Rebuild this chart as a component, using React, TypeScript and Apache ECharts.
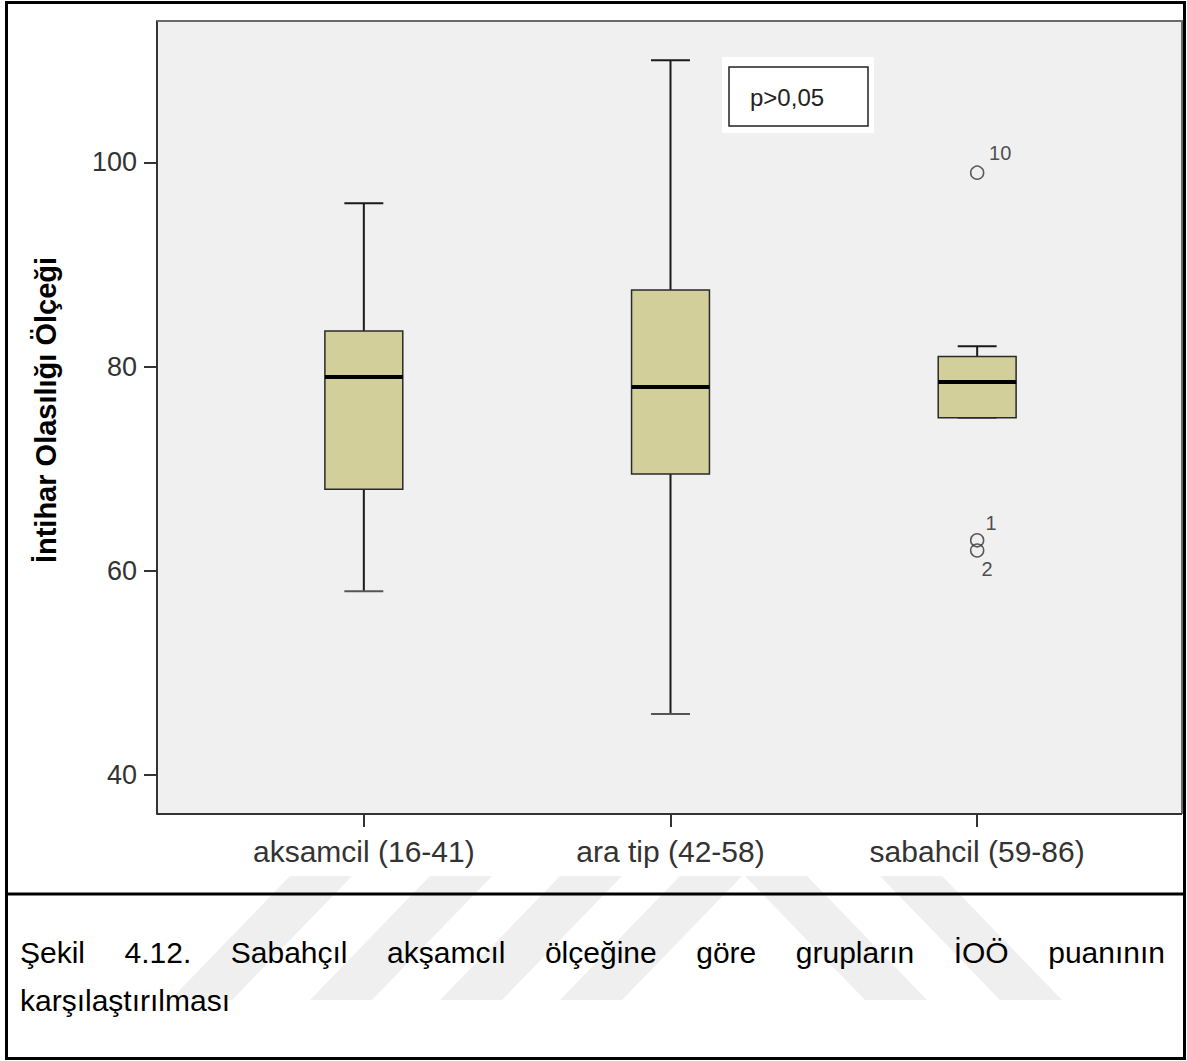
import React, { useEffect, useRef } from 'react';
import * as echarts from 'echarts';

// ---- data ----
const categories = ['aksamcil (16-41)', 'ara tip (42-58)', 'sabahcil (59-86)'];
const whiskerLow = [58, 46, 75];
const quartile1 = [68, 69.5, 75];
const medians = [79, 78, 78.5];
const quartile3 = [83.5, 87.5, 81];
const whiskerHigh = [96, 110, 82];

const outlierCategory = [2, 2, 2];
const outlierValues = [99, 63, 62];
const outlierIds = ['10', '1', '2'];

const yTicks = [40, 60, 80, 100];
const yAxisTitle = 'İntihar Olasılığı Ölçeği';
const annotationText = 'p>0,05';
const captionLine1 = ['Şekil', '4.12.', 'Sabahçıl', 'akşamcıl', 'ölçeğine', 'göre', 'grupların', 'İOÖ', 'puanının'];
const captionLine2 = 'karşılaştırılması';

const FONT = '"Liberation Sans", Arial, Helvetica, sans-serif';
const W = 1187;
const H = 1061;

function buildCaption(): any[] {
  const size = 30;
  const left = 20;
  const right = 1165;
  const canvas = document.createElement('canvas');
  const ctx = canvas.getContext('2d');
  let widths = captionLine1.map((w) => w.length * size * 0.5);
  if (ctx) {
    ctx.font = `${size}px ${FONT}`;
    widths = captionLine1.map((w) => ctx.measureText(w).width);
  }
  const total = widths.reduce((a, b) => a + b, 0);
  const gap = (right - left - total) / (captionLine1.length - 1);
  const els: any[] = [];
  let x = left;
  captionLine1.forEach((w, i) => {
    els.push({
      type: 'text',
      z: 20,
      style: {
        text: w, x, y: 952, font: `${size}px ${FONT}`, fill: '#000',
        align: 'left', verticalAlign: 'middle', textAlign: 'left', textVerticalAlign: 'middle',
      },
    });
    x += widths[i] + gap;
  });
  els.push({
    type: 'text',
    z: 20,
    style: {
      text: captionLine2, x: left, y: 1000, font: `${size}px ${FONT}`, fill: '#000',
      align: 'left', verticalAlign: 'middle', textAlign: 'left', textVerticalAlign: 'middle',
    },
  });
  return els;
}

function buildWatermark(): any[] {
  const top = 876;
  const bottom = 1000;
  const shift = 120;
  const bw = 62;
  const els: any[] = [];
  [290, 430, 560, 680].forEach((x) => {
    els.push({
      type: 'polygon', z: -20, silent: true,
      shape: { points: [[x, top], [x + bw, top], [x + bw - shift, bottom], [x - shift, bottom]] },
      style: { fill: '#efefef' },
    });
  });
  [745, 880].forEach((x) => {
    els.push({
      type: 'polygon', z: -20, silent: true,
      shape: { points: [[x, top], [x + bw, top], [x + bw + shift, bottom], [x + shift, bottom]] },
      style: { fill: '#efefef' },
    });
  });
  return els;
}

export default function App() {
  const ref = useRef<HTMLDivElement>(null);

  useEffect(() => {
    if (!ref.current) return;
    const chart = echarts.init(ref.current, undefined, { renderer: 'svg' });

    const plotL = 157, plotR = 1182, plotT = 21, plotB = 814;
    const boxData = categories.map((_, i) => [i, whiskerLow[i], quartile1[i], medians[i], quartile3[i], whiskerHigh[i]]);
    const labelOffsets = [[23, -20], [14, -17], [10, 18]];
    const outlierData = outlierValues.map((v, i) => ({
      value: [outlierCategory[i], v],
      label: { offset: labelOffsets[i] },
    }));

    const option: any = {
      animation: false,
      backgroundColor: '#ffffff',
      grid: {
        left: 210.5,
        right: W - 1130.5,
        top: plotT,
        bottom: H - plotB,
        containLabel: false,
        outerBoundsMode: 'none',
      },
      xAxis: {
        type: 'category',
        data: categories,
        axisLine: { show: false },
        axisTick: { show: true, alignWithLabel: true, length: 13, lineStyle: { color: '#333', width: 2 } },
        axisLabel: { fontSize: 30, color: '#333', margin: 22, fontFamily: FONT },
        splitLine: { show: false },
      },
      yAxis: {
        type: 'value',
        min: 36.2,
        max: 113.85,
        offset: 53.5,
        axisLine: { show: true, lineStyle: { color: '#333', width: 2 } },
        axisTick: { show: true, length: 13, customValues: yTicks, lineStyle: { color: '#333', width: 2 } },
        axisLabel: { fontSize: 27, color: '#333', margin: 20, fontFamily: FONT, customValues: yTicks },
        splitLine: { show: false },
      },
      graphic: [
        ...buildWatermark(),
        {
          type: 'rect', z: -10, silent: true,
          shape: { x: plotL, y: plotT, width: plotR - plotL, height: plotB - plotT },
          style: { fill: '#f0f0f0' },
        },
        {
          type: 'polyline', z: 1, silent: true,
          shape: { points: [[plotL, plotT], [plotR, plotT], [plotR, plotB]] },
          style: { stroke: '#6a6a6a', lineWidth: 2, fill: 'none' },
        },
        {
          type: 'line', z: 1, silent: true,
          shape: { x1: plotL, y1: plotB, x2: plotR, y2: plotB },
          style: { stroke: '#333', lineWidth: 2 },
        },
        // y-axis title
        {
          type: 'text', z: 8, silent: true,
          x: 46, y: 410, rotation: Math.PI / 2,
          style: {
            text: yAxisTitle, x: 0, y: 0, font: `bold 29px ${FONT}`, fill: '#000',
            align: 'center', verticalAlign: 'middle', textAlign: 'center', textVerticalAlign: 'middle',
          },
        },
        // annotation box
        {
          type: 'rect', z: 5, silent: true,
          shape: { x: 722, y: 57, width: 152, height: 76 },
          style: { fill: '#ffffff' },
        },
        {
          type: 'rect', z: 6, silent: true,
          shape: { x: 729, y: 67, width: 139, height: 59 },
          style: { fill: '#ffffff', stroke: '#222', lineWidth: 1.5 },
        },
        {
          type: 'text', z: 7, silent: true,
          style: {
            text: annotationText, x: 750, y: 97, font: `24px ${FONT}`, fill: '#222',
            align: 'left', verticalAlign: 'middle', textAlign: 'left', textVerticalAlign: 'middle',
          },
        },
        // outer frame + separator
        {
          type: 'rect', z: 30, silent: true,
          shape: { x: 6.5, y: 2.5, width: 1178, height: 1056 },
          style: { fill: 'none', stroke: '#000', lineWidth: 3 },
        },
        {
          type: 'line', z: 30, silent: true,
          shape: { x1: 6.5, y1: 894, x2: 1184.5, y2: 894 },
          style: { stroke: '#000', lineWidth: 3 },
        },
        ...buildCaption(),
      ],
      series: [
        {
          type: 'custom',
          name: 'box',
          data: boxData,
          encode: { x: 0, y: [1, 2, 3, 4, 5] },
          z: 3,
          renderItem: (params: any, api: any) => {
            const x = api.value(0);
            const lo = api.coord([x, api.value(1)]);
            const q1 = api.coord([x, api.value(2)]);
            const md = api.coord([x, api.value(3)]);
            const q3 = api.coord([x, api.value(4)]);
            const hi = api.coord([x, api.value(5)]);
            const band = api.size([1, 0])[0];
            const bw = band * 0.254;
            const cw = bw / 2;
            const cx = lo[0];
            const ls = { stroke: '#1a1a1a', lineWidth: 2 };
            return {
              type: 'group',
              children: [
                { type: 'line', shape: { x1: cx, y1: q3[1], x2: cx, y2: hi[1] }, style: ls },
                { type: 'line', shape: { x1: cx - cw / 2, y1: hi[1], x2: cx + cw / 2, y2: hi[1] }, style: ls },
                { type: 'line', shape: { x1: cx, y1: q1[1], x2: cx, y2: lo[1] }, style: ls },
                { type: 'line', shape: { x1: cx - cw / 2, y1: lo[1], x2: cx + cw / 2, y2: lo[1] }, style: { stroke: '#555', lineWidth: 2 } },
                {
                  type: 'rect',
                  shape: { x: cx - bw / 2, y: q3[1], width: bw, height: q1[1] - q3[1] },
                  style: { fill: '#d3cf9a', stroke: '#2a2a2a', lineWidth: 1.5 },
                },
                { type: 'line', shape: { x1: cx - bw / 2, y1: md[1], x2: cx + bw / 2, y2: md[1] }, style: { stroke: '#000', lineWidth: 4 } },
              ],
            };
          },
        },
        {
          type: 'scatter',
          name: 'outliers',
          data: outlierData,
          symbol: 'circle',
          symbolSize: 13,
          z: 4,
          itemStyle: { color: 'rgba(0,0,0,0)', borderColor: '#333', borderWidth: 1.5 },
          label: {
            show: true,
            position: 'inside',
            formatter: (p: any) => outlierIds[p.dataIndex],
            fontSize: 20,
            color: '#222',
            fontFamily: FONT,
          },
        },
      ],
    };

    chart.setOption(option);
    return () => chart.dispose();
  }, []);

  return (
    <div
      ref={ref}
      style={{ position: 'fixed', left: 0, top: 0, width: W, height: H, background: '#fff' }}
    />
  );
}
